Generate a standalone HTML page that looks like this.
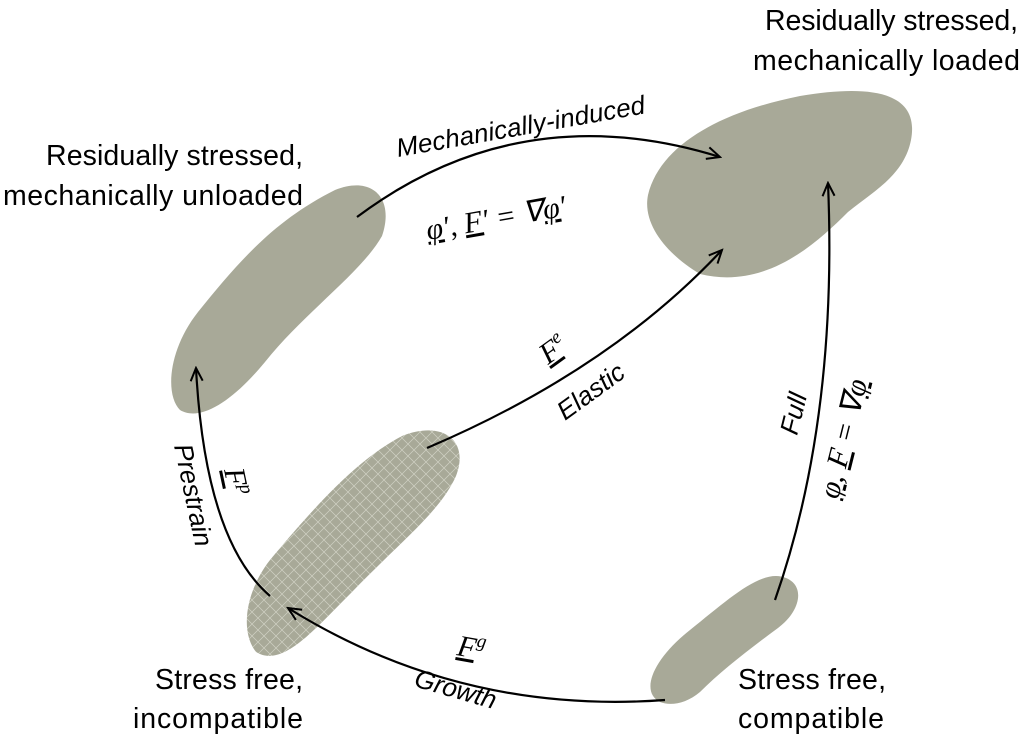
<!DOCTYPE html>
<html><head><style>
html,body{margin:0;padding:0;background:#fff}
svg{display:block}
text{font-family:"Liberation Sans",sans-serif;fill:#000}
.m{font-family:"Liberation Serif",serif;font-style:italic}
.u{text-decoration:underline}
.d{text-decoration:underline;text-decoration-style:double}
</style></head><body>
<svg width="1024" height="739" viewBox="0 0 1024 739" xmlns="http://www.w3.org/2000/svg">
<defs>
<pattern id="h" width="12" height="12" patternUnits="userSpaceOnUse">
<rect width="12" height="12" fill="#a8a998"/>
<path d="M0 0L12 12M12 0L0 12" stroke="#d0d1c4" stroke-width="0.7"/>
</pattern>
<marker id="a" markerWidth="16" markerHeight="14" refX="14" refY="7" orient="auto" markerUnits="userSpaceOnUse">
<path d="M1 1L14 7L1 13" fill="none" stroke="#000" stroke-width="2"/>
</marker>
</defs>
<g fill="#a8a998">
<path d="M180 410 C165 395 168 350 198 312 C240 260 275 220 335 190 C372 175 395 198 382 236 C362 272 305 312 265 362 C232 402 200 422 180 410Z"/>
<path d="M700 274 C668 255 642 225 648 195 C660 145 720 112 800 96 C872 84 920 92 911 140 C904 175 875 190 848 212 C815 245 765 290 700 274Z"/>
<path d="M660 702 C640 692 652 660 690 630 C730 598 762 568 786 578 C806 586 800 612 778 628 C748 650 720 672 700 692 C686 704 670 706 660 702Z"/>
</g>
<path fill="url(#h)" d="M256 652 C240 632 245 592 270 560 C320 500 360 458 402 436 C442 420 470 440 456 476 C440 512 400 542 352 592 C312 632 282 668 256 652Z"/>
<g fill="none" stroke="#000" stroke-width="2.2">
<path d="M357 217 Q520 95 720 157" marker-end="url(#a)"/>
<path d="M427 448 Q610 370 722 250" marker-end="url(#a)"/>
<path d="M775 600 Q838 420 828 183" marker-end="url(#a)"/>
<path d="M270 596 Q205 540 196 368" marker-end="url(#a)"/>
<path d="M665 700 Q460 715 288 608" marker-end="url(#a)"/>
</g>
<g font-size="28.5">
<text x="1018" y="30" text-anchor="end" textLength="253">Residually stressed,</text>
<text x="1020" y="70" text-anchor="end" textLength="267">mechanically loaded</text>
<text x="303" y="165" text-anchor="end" textLength="257">Residually stressed,</text>
<text x="303" y="205" text-anchor="end" textLength="300">mechanically unloaded</text>
<text x="303" y="689" text-anchor="end" textLength="148">Stress free,</text>
<text x="303" y="728" text-anchor="end" textLength="170">incompatible</text>
<text x="738" y="689" textLength="148">Stress free,</text>
<text x="738" y="728" textLength="146">compatible</text>
</g>
<g font-size="26" font-style="italic">
<text transform="translate(398,157) rotate(-10)" textLength="252">Mechanically-induced</text>
<text transform="translate(565,421) rotate(-36)">Elastic</text>
<text transform="translate(797,436) rotate(-76)">Full</text>
<text transform="translate(174,446) rotate(78)">Prestrain</text>
<text transform="translate(413,686) rotate(16)">Growth</text>
</g>
<g font-size="30">
<text class="m" transform="translate(428,240) rotate(-10)"><tspan class="u">φ</tspan>′, <tspan class="d">F</tspan>′ = ∇<tspan class="u">φ</tspan>′</text>
<text class="m" transform="translate(548,365) rotate(-36)"><tspan class="d">F</tspan><tspan font-size="19" dy="-12">e</tspan></text>
<text class="m" transform="translate(838,500) rotate(-76)"><tspan class="u">φ</tspan>, <tspan class="d">F</tspan> = ∇<tspan class="u">φ</tspan></text>
<text class="m" transform="translate(224,470) rotate(78)"><tspan class="d">F</tspan><tspan font-size="19" dy="-12">p</tspan></text>
<text class="m" transform="translate(456,655) rotate(10)"><tspan class="d">F</tspan><tspan font-size="19" dy="-12">g</tspan></text>
</g>
</svg>
</body></html>
